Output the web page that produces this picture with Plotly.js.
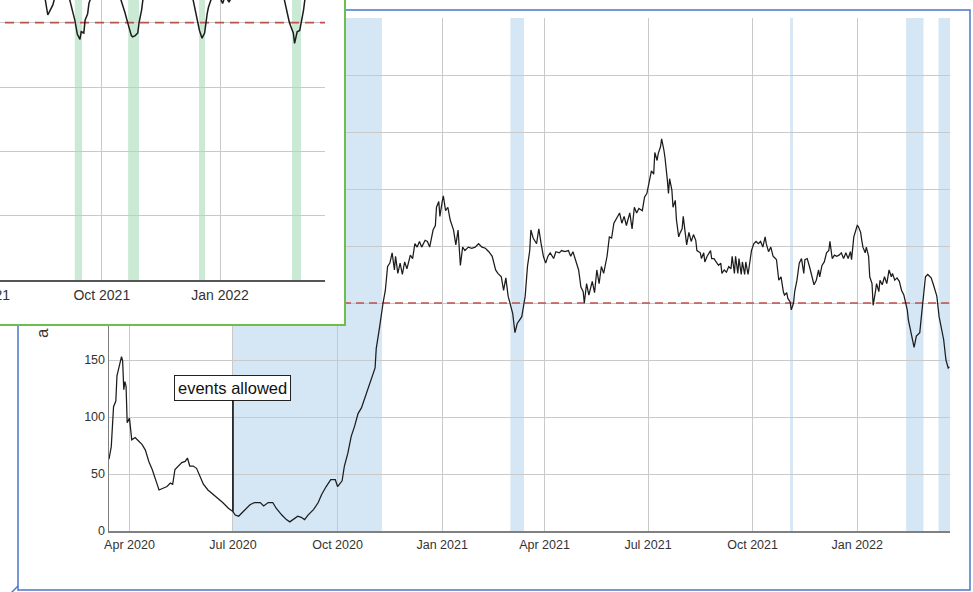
<!DOCTYPE html>
<html>
<head>
<meta charset="utf-8">
<script src="https://cdn.plot.ly/plotly-3.0.1.min.js"></script>
<style>
  html, body { margin: 0; padding: 0; background: #ffffff; overflow: hidden; width: 973px; height: 592px; }
  #chart { position: absolute; left: -100px; top: -60px; width: 1100px; height: 660px; }
</style>
</head>
<body>
<div id="chart"></div>
<script>
// ---- main series: daily index, Mar 2020 - Mar 2022 ----
const mainDates = [
  '2020-03-14','2020-03-16','2020-03-18','2020-03-20','2020-03-21','2020-03-23','2020-03-25','2020-03-26','2020-03-27','2020-03-28','2020-03-29','2020-03-30',
  '2020-04-01','2020-04-03','2020-04-06','2020-04-09','2020-04-12','2020-04-15','2020-04-18','2020-04-21','2020-04-23','2020-04-25','2020-04-27',
  '2020-05-01','2020-05-04','2020-05-07','2020-05-09','2020-05-11','2020-05-14','2020-05-17','2020-05-20','2020-05-22','2020-05-24','2020-05-27','2020-05-30',
  '2020-06-02','2020-06-05','2020-06-09','2020-06-14','2020-06-18','2020-06-22','2020-06-27',
  '2020-07-01','2020-07-03','2020-07-06','2020-07-09','2020-07-12','2020-07-16','2020-07-20','2020-07-25','2020-07-28',
  '2020-08-01','2020-08-05','2020-08-08','2020-08-13','2020-08-17','2020-08-20','2020-08-23','2020-08-27','2020-08-30',
  '2020-09-02','2020-09-05','2020-09-10','2020-09-14','2020-09-17','2020-09-21','2020-09-25','2020-09-29',
  '2020-10-01','2020-10-05','2020-10-07','2020-10-10','2020-10-13','2020-10-16','2020-10-19','2020-10-22','2020-10-25','2020-10-28','2020-10-31',
  '2020-11-03','2020-11-04','2020-11-05','2020-11-06','2020-11-07','2020-11-10','2020-11-12','2020-11-14','2020-11-16','2020-11-18','2020-11-20','2020-11-21','2020-11-23','2020-11-25','2020-11-27','2020-11-29',
  '2020-12-01','2020-12-04','2020-12-06','2020-12-08','2020-12-10','2020-12-12','2020-12-14','2020-12-17','2020-12-19','2020-12-21','2020-12-24','2020-12-26','2020-12-27','2020-12-29','2020-12-30',
  '2021-01-01','2021-01-02','2021-01-04','2021-01-06','2021-01-08','2021-01-11','2021-01-13','2021-01-15','2021-01-17','2021-01-19','2021-01-21','2021-01-24','2021-01-27','2021-01-30',
  '2021-02-02','2021-02-05','2021-02-08','2021-02-11','2021-02-14','2021-02-17','2021-02-19','2021-02-22','2021-02-24','2021-02-26','2021-02-28',
  '2021-03-02','2021-03-04','2021-03-06','2021-03-08','2021-03-10','2021-03-12','2021-03-13','2021-03-15','2021-03-17','2021-03-19','2021-03-20','2021-03-22','2021-03-25','2021-03-27','2021-03-29','2021-03-31',
  '2021-04-02','2021-04-04','2021-04-06','2021-04-09','2021-04-11','2021-04-14','2021-04-16','2021-04-19','2021-04-22','2021-04-24','2021-04-26','2021-04-29',
  '2021-05-01','2021-05-03','2021-05-05','2021-05-06','2021-05-08','2021-05-10','2021-05-13','2021-05-15','2021-05-17','2021-05-19','2021-05-21','2021-05-23','2021-05-26','2021-05-28','2021-05-30',
  '2021-06-01','2021-06-04','2021-06-06','2021-06-08','2021-06-10','2021-06-12','2021-06-15','2021-06-17','2021-06-19','2021-06-21','2021-06-23','2021-06-26','2021-06-28','2021-06-30',
  '2021-07-01','2021-07-03','2021-07-04','2021-07-06','2021-07-07','2021-07-09','2021-07-10','2021-07-12','2021-07-13','2021-07-15','2021-07-16','2021-07-18','2021-07-19','2021-07-20','2021-07-22','2021-07-23','2021-07-25','2021-07-26','2021-07-28','2021-07-29','2021-07-31',
  '2021-08-01','2021-08-03','2021-08-04','2021-08-06','2021-08-08','2021-08-10','2021-08-12','2021-08-13','2021-08-16','2021-08-17','2021-08-19','2021-08-20','2021-08-22','2021-08-25','2021-08-26','2021-08-28','2021-08-30',
  '2021-09-01','2021-09-03','2021-09-04','2021-09-06','2021-09-08','2021-09-10','2021-09-12','2021-09-13','2021-09-15','2021-09-16','2021-09-18','2021-09-19','2021-09-21','2021-09-22','2021-09-24','2021-09-25','2021-09-27','2021-09-28','2021-09-30',
  '2021-10-02','2021-10-04','2021-10-06','2021-10-08','2021-10-10','2021-10-12','2021-10-13','2021-10-15','2021-10-17','2021-10-19','2021-10-21','2021-10-22','2021-10-24','2021-10-26','2021-10-28','2021-10-29','2021-10-31',
  '2021-11-01','2021-11-03','2021-11-04','2021-11-06','2021-11-07','2021-11-09','2021-11-11','2021-11-13','2021-11-15','2021-11-16','2021-11-18','2021-11-20','2021-11-22','2021-11-24','2021-11-26','2021-11-28','2021-11-29',
  '2021-12-01','2021-12-03','2021-12-05','2021-12-07','2021-12-08','2021-12-10','2021-12-12','2021-12-14','2021-12-16','2021-12-18','2021-12-20','2021-12-22','2021-12-24','2021-12-26','2021-12-27','2021-12-29','2021-12-30',
  '2022-01-01','2022-01-02','2022-01-04','2022-01-05','2022-01-06','2022-01-08','2022-01-09','2022-01-11','2022-01-12','2022-01-14','2022-01-15','2022-01-17','2022-01-18','2022-01-20','2022-01-21','2022-01-23','2022-01-25','2022-01-27','2022-01-29','2022-01-31',
  '2022-02-01','2022-02-03','2022-02-05','2022-02-07','2022-02-09','2022-02-11','2022-02-12','2022-02-14','2022-02-15','2022-02-17','2022-02-18','2022-02-19','2022-02-20','2022-02-22','2022-02-25','2022-02-27','2022-02-28',
  '2022-03-02','2022-03-04','2022-03-07','2022-03-09','2022-03-11','2022-03-12','2022-03-14','2022-03-16','2022-03-18','2022-03-20','2022-03-22','2022-03-23'
];
const mainValues = [
  63,74,109,114,136,144,153,149,124,131,127,95,
  99,80,82,79,76,71,61,54,47,42,36,
  38,39,42,41,54,57,60,61,64,57,57,55,
  48,41,36,32,28,25,20,
  17,14,13,16,19,23,25,25,22,
  25,25,20,14,10,8,10,13,12,
  10,14,19,25,32,39,45,45,
  39,44,57,68,83,92,103,108,117,124,133,
  143,160,168,172,179,200,211,232,235,244,229,241,226,235,225,236,
  230,242,239,252,249,254,249,255,254,249,264,268,284,289,276,
  289,294,281,284,273,264,251,264,233,249,246,249,248,249,
  252,249,248,245,241,229,226,223,211,222,206,
  197,191,174,182,185,188,194,206,232,246,264,257,252,265,252,241,
  235,241,244,239,245,244,246,245,246,241,245,235,
  229,214,210,200,217,207,219,209,229,217,232,226,241,258,257,
  270,276,279,270,276,268,279,265,284,279,283,281,293,296,
  302,311,316,313,332,325,331,337,344,334,327,308,296,309,299,284,290,273,258,261,265,
  276,260,251,262,254,260,255,246,244,239,244,236,241,246,239,239,236,
  233,235,226,229,227,232,230,241,226,241,226,239,225,236,225,236,225,232,246,
  252,254,252,254,249,258,252,245,249,241,239,238,220,223,210,207,209,
  204,201,194,200,210,220,235,239,226,238,239,232,225,216,220,229,223,
  233,236,244,246,254,239,242,241,242,244,239,244,239,245,238,258,261,
  268,267,262,255,249,244,249,241,223,217,198,210,217,210,220,216,223,217,229,223,
  226,220,222,219,211,207,203,194,185,176,169,165,161,171,174,194,206,
  223,225,222,216,209,206,188,176,168,150,143,144
];

// restriction periods shaded on the main chart
const mainShadeStart = ['2020-07-01', '2021-03-02', '2021-11-03', '2022-02-13', '2022-03-13 12:00'];
const mainShadeEnd   = ['2020-11-09', '2021-03-14', '2021-11-05 12:00', '2022-02-28 06:00', '2022-03-24'];

const threshold = 200;
const eventDate = '2020-07-01';
const eventLabel = 'events allowed';

// ---- second window: same index for another site, Apr 2021 - Mar 2022 ----
const insetDates = [
  '2021-04-27','2021-05-20','2021-06-15','2021-07-10','2021-08-01','2021-08-12',
  '2021-08-18','2021-08-20','2021-08-22','2021-08-24','2021-08-25','2021-08-29','2021-09-03',
  '2021-09-06','2021-09-08','2021-09-10','2021-09-12','2021-09-14','2021-09-15','2021-09-17','2021-09-18','2021-09-20','2021-09-21','2021-09-22',
  '2021-09-26','2021-10-05','2021-10-12',
  '2021-10-16','2021-10-19','2021-10-22','2021-10-24','2021-10-25','2021-10-27','2021-10-29','2021-10-30','2021-11-01','2021-11-02',
  '2021-11-08','2021-11-20','2021-12-01','2021-12-07',
  '2021-12-11','2021-12-14','2021-12-16','2021-12-18','2021-12-20','2021-12-22','2021-12-23','2021-12-25',
  '2021-12-29','2022-01-03','2022-01-05','2022-01-08','2022-01-11',
  '2022-01-16','2022-01-26','2022-02-06','2022-02-15',
  '2022-02-20','2022-02-24','2022-02-27','2022-02-28','2022-03-02','2022-03-04','2022-03-07','2022-03-08',
  '2022-03-13','2022-03-23'
];
const insetValues = [
  240,250,245,255,240,232,
  218,206,210,214,218,228,230,
  218,211,202,191,187,193,192,202,207,215,218,
  232,238,230,
  218,208,197,190,189,190,192,200,210,218,
  232,240,236,226,
  218,202,194,188,192,207,212,218,
  226,215,221,216,222,
  236,245,238,228,
  218,200,192,184,193,194,210,218,
  230,240
];
const insetShadeStart = ['2021-09-10', '2021-10-21 12:00', '2021-12-15 16:00', '2022-02-26'];
const insetShadeEnd   = ['2021-09-15 16:00', '2021-10-30', '2021-12-20 08:00', '2022-03-05'];

// ---- geometry (figure is 1100x660, shifted -100/-60 in the window) ----
const W = 1100, H = 660;
const px = v => v / W;            // paper x from figure pixels
const py = v => (H - v) / H;      // paper y from figure pixels (top-down)

const mainRange = ['2020-03-14', '2022-03-23 14:00'];
const insetRange = ['2021-04-27', '2022-03-23 16:00'];
const insetYMax = 264.3;

const FONT = 'Arial, "Liberation Sans", sans-serif';
const GRID = '#c9c9c9';
const AXIS = '#808080';

const traces = [
  // main subplot
  { x: [mainRange[0], mainRange[1]], y: [threshold, threshold], xaxis: 'x', yaxis: 'y',
    mode: 'lines', line: { color: '#b9534c', width: 1.5, dash: '8px,5px' }, hoverinfo: 'skip' },
  { x: mainDates, y: mainValues, xaxis: 'x', yaxis: 'y',
    mode: 'lines', line: { color: '#1c1c1c', width: 1.25 }, hoverinfo: 'skip' },
  // window backdrop subplot (holds the white panel)
  { x: [], y: [], xaxis: 'x2', yaxis: 'y2', mode: 'lines', hoverinfo: 'skip' },
  // second window
  { x: [insetRange[0], insetRange[1]], y: [threshold, threshold], xaxis: 'x3', yaxis: 'y3',
    mode: 'lines', line: { color: '#b9534c', width: 1.7, dash: '9px,6px' }, hoverinfo: 'skip' },
  { x: insetDates, y: insetValues, xaxis: 'x3', yaxis: 'y3',
    mode: 'lines', line: { color: '#1c1c1c', width: 1.5 }, hoverinfo: 'skip' }
];

const shapes = [];
// outer blue window frame
shapes.push({ type: 'rect', xref: 'paper', yref: 'paper', layer: 'below',
  x0: px(118), x1: px(1070), y0: py(650), y1: py(70),
  line: { color: '#4a78c8', width: 1.5 }, fillcolor: 'rgba(0,0,0,0)' });
shapes.push({ type: 'line', xref: 'paper', yref: 'paper', layer: 'below',
  x0: px(111), y0: py(653), x1: px(118), y1: py(646),
  line: { color: '#4a78c8', width: 1.5 } });
// shaded periods
for (let i = 0; i < mainShadeStart.length; i++) {
  shapes.push({ type: 'rect', xref: 'x', yref: 'y', layer: 'below',
    x0: mainShadeStart[i], x1: mainShadeEnd[i], y0: 0, y1: 450,
    fillcolor: 'rgb(213,230,245)', line: { width: 0 } });
}
// white panel of the second window
shapes.push({ type: 'rect', xref: 'x2', yref: 'y2', layer: 'below',
  x0: 0, x1: 1, y0: 0, y1: 1, fillcolor: '#ffffff', line: { width: 0 } });
for (let i = 0; i < insetShadeStart.length; i++) {
  shapes.push({ type: 'rect', xref: 'x3', yref: 'y3', layer: 'below',
    x0: insetShadeStart[i], x1: insetShadeEnd[i], y0: 0, y1: insetYMax,
    fillcolor: 'rgb(202,234,213)', line: { width: 0 } });
}
// green window border
shapes.push({ type: 'line', xref: 'paper', yref: 'paper', layer: 'above',
  x0: px(445), x1: px(445), y0: py(386), y1: 1, line: { color: '#6cbf4f', width: 2 } });
shapes.push({ type: 'line', xref: 'paper', yref: 'paper', layer: 'above',
  x0: 0, x1: px(446), y0: py(385), y1: py(385), line: { color: '#6cbf4f', width: 2 } });

const eventIdx = mainDates.indexOf(eventDate);

const layout = {
  width: W, height: H,
  margin: { l: 0, r: 0, t: 0, b: 0, pad: 0 },
  paper_bgcolor: '#ffffff', plot_bgcolor: '#ffffff',
  showlegend: false,
  font: { family: FONT, color: '#333333' },
  xaxis: {
    type: 'date', domain: [px(209), px(1050)], anchor: 'y', range: mainRange,
    tick0: '2020-01-01', dtick: 'M3', tickformat: '%b %Y',
    showgrid: true, gridcolor: GRID, gridwidth: 1, zeroline: false,
    showline: true, linecolor: AXIS, linewidth: 1.5, ticks: '',
    tickfont: { size: 12.5, color: '#333333' }, ticklabelstandoff: 1, automargin: false
  },
  yaxis: {
    domain: [py(591), py(78)], anchor: 'x', range: [0, 450], dtick: 50,
    showgrid: true, gridcolor: GRID, gridwidth: 1, zeroline: false,
    showline: true, linecolor: AXIS, linewidth: 1.5, ticks: '',
    tickfont: { size: 12.5, color: '#333333' }, automargin: false
  },
  xaxis2: {
    type: 'linear', domain: [0, px(445)], anchor: 'y2', range: [0, 1],
    showgrid: false, zeroline: false, showline: false, showticklabels: false, ticks: ''
  },
  yaxis2: {
    type: 'linear', domain: [py(385), 1], anchor: 'x2', range: [0, 1],
    showgrid: false, zeroline: false, showline: false, showticklabels: false, ticks: ''
  },
  xaxis3: {
    type: 'date', domain: [0, px(425)], anchor: 'y3', range: insetRange,
    tick0: '2021-01-01', dtick: 'M3', tickformat: '%b %Y',
    showgrid: true, gridcolor: GRID, gridwidth: 1, zeroline: false,
    showline: true, linecolor: '#555555', linewidth: 1.5, ticks: '',
    tickfont: { size: 14, color: '#333333' }, ticklabelstandoff: 2, automargin: false
  },
  yaxis3: {
    domain: [py(340), 1], anchor: 'x3', range: [0, insetYMax], dtick: 50,
    showgrid: true, gridcolor: GRID, gridwidth: 1, zeroline: false,
    showline: false, showticklabels: false, ticks: '', automargin: false
  },
  shapes: shapes,
  annotations: [
    { xref: 'x', yref: 'y', x: eventDate, y: mainValues[eventIdx],
      text: eventLabel, showarrow: true, arrowhead: 0, arrowwidth: 1.6, arrowcolor: '#111111',
      ax: 0, ay: -124, bgcolor: '#ffffff', bordercolor: '#222222', borderwidth: 1, borderpad: 3,
      font: { family: FONT, size: 16.5, color: '#111111' } },
    { xref: 'paper', yref: 'paper', x: px(142), y: py(393), xanchor: 'center', yanchor: 'middle',
      text: 'a', textangle: -90, showarrow: false,
      font: { family: FONT, size: 17, color: '#333333' } }
  ]
};

Plotly.newPlot('chart', traces, layout, { staticPlot: true, displayModeBar: false });
</script>
</body>
</html>
